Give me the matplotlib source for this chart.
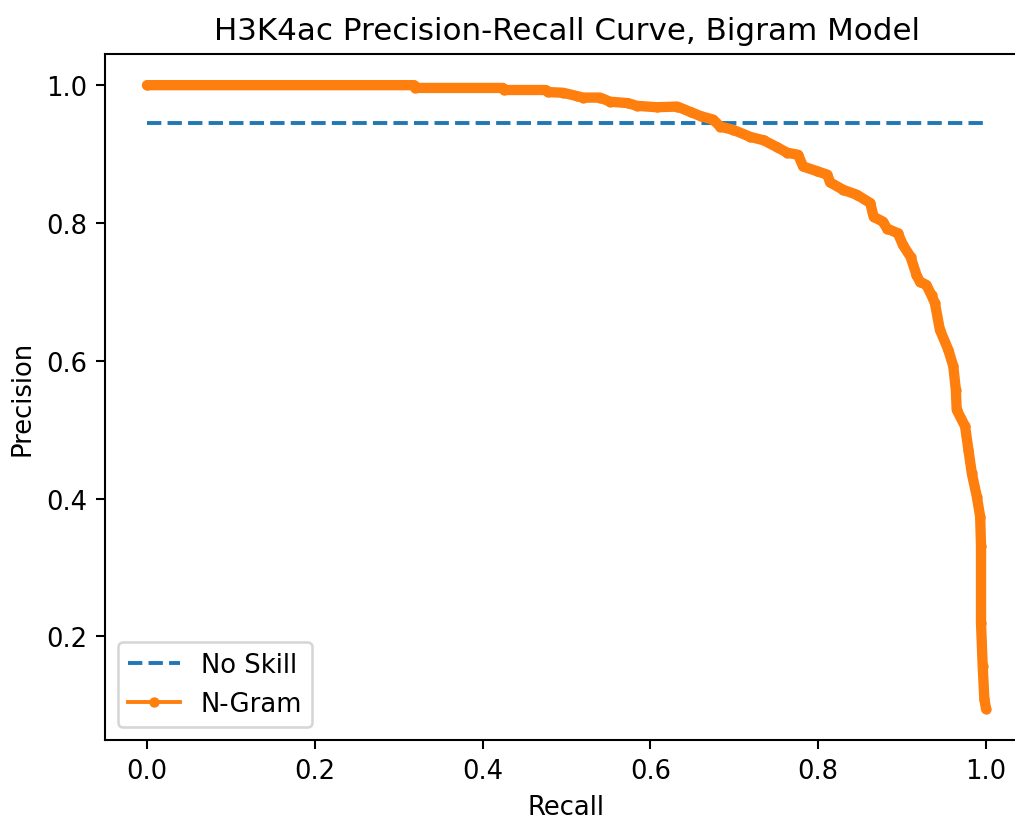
import matplotlib
matplotlib.use("Agg")
import matplotlib.pyplot as plt

# Precision-recall points
recall = [0.000, 0.318, 0.320, 0.424, 0.426, 0.475, 0.478, 0.496, 0.513, 0.520,
          0.540, 0.552, 0.573, 0.584, 0.608, 0.632, 0.648, 0.660, 0.675, 0.683,
          0.699, 0.719, 0.735, 0.751, 0.763, 0.776, 0.782, 0.799, 0.811, 0.814,
          0.830, 0.846, 0.862, 0.866, 0.877, 0.882, 0.895, 0.901, 0.910, 0.917,
          0.921, 0.929, 0.935, 0.939, 0.945, 0.955, 0.961, 0.964, 0.965, 0.975,
          0.979, 0.983, 0.989, 0.993, 0.994, 0.994, 0.996, 0.998, 1.000]
precision = [1.000, 1.000, 0.996, 0.996, 0.993, 0.993, 0.990, 0.989, 0.984, 0.982,
             0.982, 0.976, 0.974, 0.970, 0.968, 0.969, 0.961, 0.955, 0.950, 0.940,
             0.935, 0.925, 0.920, 0.910, 0.902, 0.899, 0.882, 0.875, 0.870, 0.859,
             0.848, 0.841, 0.829, 0.809, 0.802, 0.792, 0.785, 0.768, 0.751, 0.725,
             0.715, 0.710, 0.695, 0.684, 0.645, 0.616, 0.592, 0.558, 0.529, 0.505,
             0.471, 0.437, 0.403, 0.374, 0.331, 0.220, 0.157, 0.109, 0.095]

no_skill_x = [0, 1]
no_skill_y = [0.945, 0.945]

dpi = 186
fig = plt.figure(figsize=(1015 / dpi, 816 / dpi), dpi=dpi)
ax = fig.add_axes([105 / 1015, 1 - 741 / 816, 923 / 1015, 686 / 816])

ax.plot(no_skill_x, no_skill_y, linestyle="--", label="No Skill")
# thick band underneath to mimic the dense dot markers
ax.plot(recall, precision, color="C1", lw=4.0, solid_capstyle="round",
        solid_joinstyle="round")
ax.plot(recall, precision, color="C1", marker=".", label="N-Gram")

ax.set_xlabel("Recall")
ax.set_ylabel("Precision")
ax.set_title("H3K4ac Precision-Recall Curve, Bigram Model")
ax.legend(loc="lower left")

fig.savefig("out.png", dpi=dpi)
